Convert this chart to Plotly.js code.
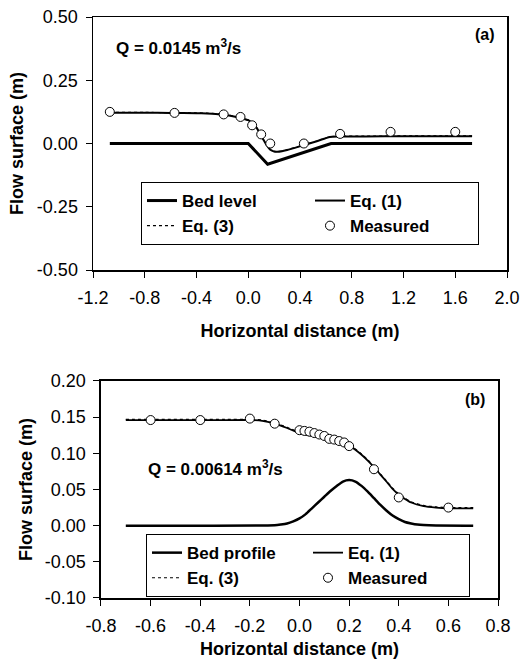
<!DOCTYPE html>
<html>
<head>
<meta charset="utf-8">
<script src="https://cdn.plot.ly/plotly-3.0.1.min.js"></script>
<style>
html,body{margin:0;padding:0;background:#fff;}
#chart{width:521px;height:659px;}
</style>
</head>
<body>
<div id="chart"></div>
<script>
// ---------- Panel (a) data ----------
var bedA_x = [-1.07, 0.0, 0.15, 0.64, 1.73];
var bedA_y = [0.0, 0.0, -0.082, 0.0, 0.0];

var eq1A_x = [-1.07,-0.8,-0.6,-0.4,-0.32,-0.25,-0.18,-0.12,-0.06,0.0,0.03,0.065,0.09,0.116,0.14,0.168,0.195,0.22,0.26,0.3,0.4,0.53,0.63,0.7,0.9,1.2,1.5,1.73];
var eq1A_y = [0.122,0.122,0.121,0.12,0.119,0.117,0.113,0.108,0.101,0.092,0.08,0.062,0.04,0.016,-0.005,-0.024,-0.031,-0.033,-0.031,-0.026,-0.011,0.009,0.026,0.028,0.028,0.029,0.029,0.029];

var eq3A_x = [-1.07,-0.8,-0.6,-0.4,-0.32,-0.25,-0.18,-0.12,-0.06,0.0,0.03,0.065,0.09,0.116,0.14,0.168,0.195,0.22,0.26,0.3,0.4,0.53,0.63,0.7,0.9,1.2,1.5,1.73];
var eq3A_y = [0.123,0.123,0.122,0.121,0.12,0.118,0.114,0.109,0.102,0.093,0.081,0.063,0.041,0.017,-0.004,-0.023,-0.030,-0.032,-0.030,-0.025,-0.010,0.010,0.027,0.029,0.029,0.030,0.030,0.030];

var measA_x = [-1.07,-0.57,-0.19,-0.06,0.03,0.10,0.17,0.43,0.71,1.10,1.60];
var measA_y = [0.125,0.121,0.115,0.105,0.072,0.036,0.0,0.0,0.038,0.046,0.046];

var xTicksA = [-1.2,-0.8,-0.4,0.0,0.4,0.8,1.2,1.6,2.0];
var xTickTextA = ["-1.2","-0.8","-0.4","0.0","0.4","0.8","1.2","1.6","2.0"];
var yTicksA = [-0.5,-0.25,0,0.25,0.5];
var yTickTextA = ["-0.50","-0.25","0.00","0.25","0.50"];

// ---------- Panel (b) data ----------
var bedB_x = [-0.7,-0.1,-0.075,-0.05,-0.025,0.0,0.025,0.05,0.075,0.1,0.125,0.15,0.175,0.2,0.225,0.25,0.275,0.3,0.325,0.35,0.375,0.4,0.425,0.45,0.475,0.5,0.55,0.7];
var bedB_y = [0.0,0.0005,0.0015,0.003,0.006,0.010,0.016,0.024,0.032,0.040,0.048,0.055,0.061,0.063,0.061,0.055,0.047,0.038,0.029,0.021,0.014,0.009,0.005,0.003,0.0015,0.0008,0.0002,0.0];

var eq1B_x = [-0.7,-0.6,-0.4,-0.3,-0.2,-0.15,-0.1,-0.05,0.0,0.05,0.1,0.15,0.2,0.225,0.25,0.275,0.3,0.325,0.35,0.375,0.4,0.425,0.45,0.5,0.55,0.6,0.7];
var eq1B_y = [0.146,0.146,0.146,0.146,0.146,0.145,0.141,0.135,0.128,0.124,0.121,0.117,0.111,0.105,0.098,0.090,0.081,0.071,0.061,0.051,0.043,0.037,0.032,0.027,0.025,0.024,0.024];

var eq3B_x = [-0.7,-0.6,-0.4,-0.3,-0.2,-0.15,-0.1,-0.05,0.0,0.05,0.1,0.15,0.2,0.225,0.25,0.275,0.3,0.325,0.35,0.375,0.4,0.425,0.45,0.5,0.55,0.6,0.7];
var eq3B_y = [0.147,0.147,0.147,0.147,0.147,0.146,0.142,0.136,0.129,0.125,0.122,0.118,0.112,0.106,0.099,0.091,0.082,0.072,0.062,0.052,0.044,0.038,0.033,0.028,0.026,0.025,0.025];

var measB_x = [-0.6,-0.4,-0.2,-0.1,0.0,0.02,0.04,0.06,0.08,0.10,0.12,0.14,0.16,0.18,0.20,0.30,0.40,0.60];
var measB_y = [0.146,0.146,0.148,0.141,0.132,0.131,0.130,0.128,0.126,0.124,0.120,0.119,0.117,0.115,0.110,0.078,0.039,0.025];

var xTicksB = [-0.8,-0.6,-0.4,-0.2,0.0,0.2,0.4,0.6,0.8];
var xTickTextB = ["-0.8","-0.6","-0.4","-0.2","0.0","0.2","0.4","0.6","0.8"];
var yTicksB = [-0.10,-0.05,0.0,0.05,0.10,0.15,0.20];
var yTickTextB = ["-0.10","-0.05","0.00","0.05","0.10","0.15","0.20"];

// ---------- Traces ----------
var FONT = "Liberation Sans, Arial, sans-serif";
var traces = [
  {x: bedA_x, y: bedA_y, mode: 'lines', name: 'Bed level', line: {color: '#000', width: 3}, xaxis: 'x', yaxis: 'y', legend: 'legend'},
  {x: eq1A_x, y: eq1A_y, mode: 'lines', name: 'Eq. (1)', line: {color: '#000', width: 2, shape: 'spline', smoothing: 0.6}, xaxis: 'x', yaxis: 'y', legend: 'legend'},
  {x: eq3A_x, y: eq3A_y, mode: 'lines', name: 'Eq. (3)', line: {color: '#000', width: 1.2, dash: 'dot', shape: 'spline', smoothing: 0.6}, xaxis: 'x', yaxis: 'y', legend: 'legend'},
  {x: measA_x, y: measA_y, mode: 'markers', name: 'Measured', marker: {symbol: 'circle', size: 9, color: '#fff', line: {color: '#000', width: 1}}, xaxis: 'x', yaxis: 'y', legend: 'legend'},

  {x: bedB_x, y: bedB_y, mode: 'lines', name: 'Bed profile', line: {color: '#000', width: 2.5, shape: 'spline', smoothing: 0.6}, xaxis: 'x2', yaxis: 'y2', legend: 'legend2'},
  {x: eq1B_x, y: eq1B_y, mode: 'lines', name: 'Eq. (1)', line: {color: '#000', width: 1.8, shape: 'spline', smoothing: 0.6}, xaxis: 'x2', yaxis: 'y2', legend: 'legend2'},
  {x: eq3B_x, y: eq3B_y, mode: 'lines', name: 'Eq. (3)', line: {color: '#000', width: 1.2, dash: 'dot', shape: 'spline', smoothing: 0.6}, xaxis: 'x2', yaxis: 'y2', legend: 'legend2'},
  {x: measB_x, y: measB_y, mode: 'markers', name: 'Measured', marker: {symbol: 'circle', size: 9, color: '#fff', line: {color: '#000', width: 1}}, xaxis: 'x2', yaxis: 'y2', legend: 'legend2'}
];

var tickFont = {family: FONT, size: 18, color: '#000'};
var titleFont = {family: FONT, size: 18, color: '#000', weight: 'bold'};

function axisBase() {
  return {
    showline: true, linecolor: '#000', linewidth: 1.5, mirror: true,
    ticks: 'outside', ticklen: 6, tickwidth: 1, tickcolor: '#000',
    showgrid: false, zeroline: false, tickfont: tickFont,
    automargin: false, fixedrange: true
  };
}

var xA = Object.assign(axisBase(), {
  domain: [0, 1], anchor: 'y', range: [-1.2, 2.0],
  tickmode: 'array', tickvals: xTicksA, ticktext: xTickTextA, ticklabelstandoff: 5,
  title: {text: 'Horizontal distance (m)', font: titleFont, standoff: 17}
});
var yA = Object.assign(axisBase(), {
  domain: [0.5645, 1], anchor: 'x', range: [-0.5, 0.5],
  tickmode: 'array', tickvals: yTicksA, ticktext: yTickTextA, ticklabelstandoff: 4,
  title: {text: 'Flow surface (m)', font: titleFont, standoff: 8}
});
var xB = Object.assign(axisBase(), {
  domain: [0.0193, 0.9783], anchor: 'y2', range: [-0.8, 0.8],
  tickmode: 'array', tickvals: xTicksB, ticktext: xTickTextB, ticklabelstandoff: 5,
  title: {text: 'Horizontal distance (m)', font: titleFont, standoff: 9}
});
var yB = Object.assign(axisBase(), {
  domain: [0, 0.3735], anchor: 'x2', range: [-0.10, 0.20],
  tickmode: 'array', tickvals: yTicksB, ticktext: yTickTextB, ticklabelstandoff: 4,
  title: {text: 'Flow surface (m)', font: titleFont, standoff: 7}
});

var legendFont = {family: FONT, size: 17, color: '#000', weight: 'bold'};

var layout = {
  width: 521, height: 659,
  margin: {l: 93, r: 14, t: 17, b: 61},
  paper_bgcolor: '#fff', plot_bgcolor: '#fff',
  showlegend: true,
  font: {family: FONT, color: '#000'},
  xaxis: xA, yaxis: yA, xaxis2: xB, yaxis2: yB,
  legend: {
    x: 0.1159, y: 0.716, xanchor: 'left', yanchor: 'top',
    orientation: 'h', entrywidth: 123, entrywidthmode: 'pixels',
    bordercolor: '#000', borderwidth: 1, bgcolor: '#fff',
    font: legendFont, traceorder: 'normal'
  },
  legend2: {
    x: 0.128, y: 0.110, xanchor: 'left', yanchor: 'top',
    orientation: 'h', entrywidth: 116, entrywidthmode: 'pixels',
    bordercolor: '#000', borderwidth: 1, bgcolor: '#fff',
    font: legendFont, traceorder: 'normal'
  },
  annotations: [
    {xref: 'x', yref: 'y', x: -1.038, y: 0.383, xanchor: 'left', yanchor: 'middle', showarrow: false,
     text: 'Q = 0.0145 m<sup>3</sup>/s', font: {family: FONT, size: 17, color: '#000', weight: 'bold'}},
    {xref: 'x', yref: 'y', x: 1.922, y: 0.431, xanchor: 'right', yanchor: 'middle', showarrow: false,
     text: '(a)', font: {family: FONT, size: 16, color: '#000', weight: 'bold'}},
    {xref: 'x2', yref: 'y2', x: -0.619, y: 0.080, xanchor: 'left', yanchor: 'middle', showarrow: false,
     text: 'Q = 0.00614 m<sup>3</sup>/s', font: {family: FONT, size: 17, color: '#000', weight: 'bold'}},
    {xref: 'x2', yref: 'y2', x: 0.756, y: 0.175, xanchor: 'right', yanchor: 'middle', showarrow: false,
     text: '(b)', font: {family: FONT, size: 16, color: '#000', weight: 'bold'}}
  ]
};

Plotly.newPlot('chart', traces, layout, {staticPlot: true, displayModeBar: false});
</script>
</body>
</html>
